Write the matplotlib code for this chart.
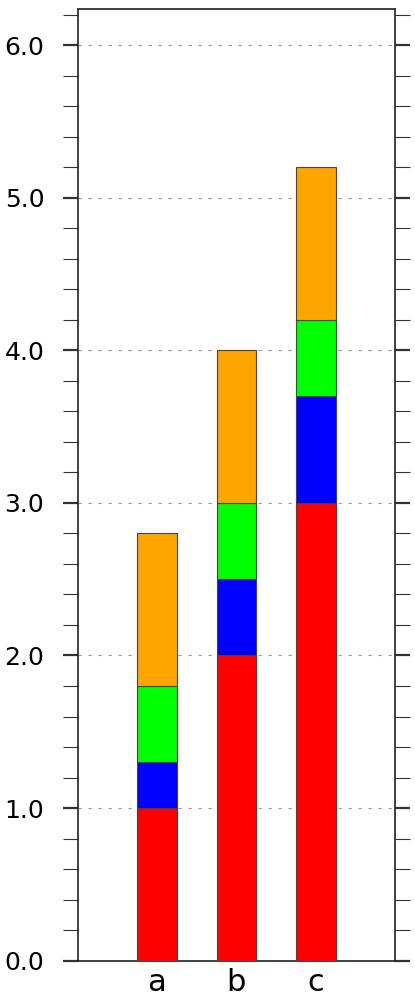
import numpy as np
import matplotlib.pyplot as plt
from matplotlib.ticker import MultipleLocator

# stacked segments, bottom to top
labels = ['a', 'b', 'c']
red = [1.0, 2.0, 3.0]
blue = [0.3, 0.5, 0.7]
green = [0.5, 0.5, 0.5]
orange = [1.0, 1.0, 1.0]
yticks = [0.0, 1.0, 2.0, 3.0, 4.0, 5.0, 6.0]

plt.rcParams['font.family'] = ['DejaVu Sans']

fig = plt.figure(figsize=(4.15, 10.01), dpi=100)
ax = fig.add_axes([0.187, 0.0403, 0.765, 0.9504])

x = np.arange(1, len(labels) + 1)
bottom = np.zeros(len(labels))
for vals, col in [(red, 'red'), (blue, 'blue'), (green, '#00ff00'), (orange, 'orange')]:
    ax.bar(x, vals, width=0.5, bottom=bottom, color=col,
           edgecolor='#444444', linewidth=0.8, zorder=3)
    bottom += np.array(vals)

ax.set_xlim(0, 4)
ax.set_ylim(0, 6.235)

ax.set_yticks(yticks)
ax.set_yticklabels([f'{v:.1f}' for v in yticks], fontsize=18)
ax.yaxis.set_minor_locator(MultipleLocator(0.2))
ax.set_xticks(x)
ax.set_xticklabels(labels, fontsize=22)

ax.tick_params(axis='y', which='major', direction='out', length=11, width=1.6,
               pad=13, left=True, right=True, color='#333333')
ax.tick_params(axis='y', which='minor', direction='out', length=11, width=0.8,
               left=True, right=True, color='#333333')
ax.tick_params(axis='x', which='major', direction='in', length=3, width=0.8,
               pad=5, color='#666666')

ax.grid(axis='y', which='major', linestyle=(0, (3, 6)), color='#999999',
        linewidth=0.8, zorder=0)
ax.set_axisbelow(True)

for s in ax.spines.values():
    s.set_linewidth(1.2)
    s.set_color('#222222')

plt.savefig('out.png', dpi=100)
